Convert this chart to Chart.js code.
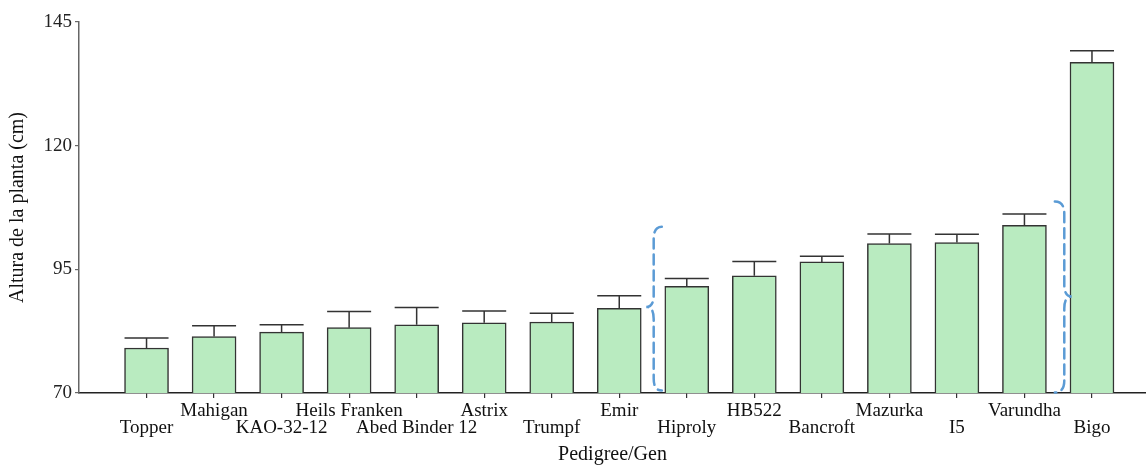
<!DOCTYPE html>
<html>
<head>
<meta charset="utf-8">
<script src="https://cdn.jsdelivr.net/npm/chart.js@4/dist/chart.umd.min.js"></script>
<style>
  html, body { margin: 0; padding: 0; background: #fff; }
  #wrap { width: 1146px; height: 465px; }
</style>
</head>
<body>
<div id="wrap"><canvas id="c" width="1146" height="465"></canvas></div>
<script>
// Plant height per pedigree / gene (cm), with the upper standard error
const categories = ['Topper', 'Mahigan', 'KAO-32-12', 'Heils Franken', 'Abed Binder 12', 'Astrix', 'Trumpf', 'Emir',
  'Hiproly', 'HB522', 'Bancroft', 'Mazurka', 'I5', 'Varundha', 'Bigo'];
const heights = [79.1, 81.4, 82.3, 83.2, 83.8, 84.2, 84.35, 87.1, 91.55, 93.7, 96.5, 100.2, 100.4, 103.9, 136.85];
const errors = [2.0, 2.2, 1.5, 3.3, 3.5, 2.4, 1.75, 2.55, 1.6, 2.9, 1.15, 1.95, 1.7, 2.3, 2.35];
const yTicks = [70, 95, 120, 145];

// Dashed braces grouping the gene classes (x in category units, y in cm)
const braces = [
  { x: 7.51, tipX: 7.40, endX: 7.63, top: 103.6, mid: 87.4, bottom: 70.5 },
  { x: 13.59, tipX: 13.70, endX: 13.45, top: 108.7, mid: 89.5, bottom: 70.1 }
];

const serif = "'Liberation Serif', 'Times New Roman', serif";

const errorBars = {
  id: 'errorBars',
  afterDatasetsDraw(chart) {
    const meta = chart.getDatasetMeta(0);
    const xs = chart.scales.x, ys = chart.scales.y;
    const ctx = chart.ctx;
    ctx.save();
    ctx.strokeStyle = '#333';
    ctx.lineWidth = 1.5;
    heights.forEach((h, i) => {
      const bar = meta.data[i];
      const x = xs.getPixelForValue(i);
      const y0 = ys.getPixelForValue(h);
      const y1 = ys.getPixelForValue(h + errors[i]);
      const half = bar.width / 2;
      ctx.beginPath();
      ctx.moveTo(x, y0);
      ctx.lineTo(x, y1);
      ctx.moveTo(x - half, y1);
      ctx.lineTo(x + half, y1);
      ctx.stroke();
    });
    ctx.restore();
  }
};

const bracePlugin = {
  id: 'braces',
  afterDatasetsDraw(chart) {
    const xs = chart.scales.x, ys = chart.scales.y;
    const ctx = chart.ctx;
    ctx.save();
    ctx.strokeStyle = '#5B9BD5';
    ctx.lineWidth = 2.5;
    ctx.setLineDash([10, 6]);
    ctx.lineCap = 'round';
    braces.forEach(b => {
      const x = xs.getPixelForValue(b.x);
      const tx = xs.getPixelForValue(b.tipX);
      const ex = xs.getPixelForValue(b.endX);
      const top = ys.getPixelForValue(b.top);
      const mid = ys.getPixelForValue(b.mid);
      const bot = ys.getPixelForValue(b.bottom);
      const r = 12;
      ctx.beginPath();
      ctx.moveTo(ex, top);
      ctx.quadraticCurveTo(x, top, x, top + r);
      ctx.lineTo(x, mid - r);
      ctx.quadraticCurveTo(x, mid, tx, mid);
      ctx.quadraticCurveTo(x, mid, x, mid + r);
      ctx.lineTo(x, bot - r);
      ctx.quadraticCurveTo(x, bot, ex, bot);
      ctx.stroke();
    });
    ctx.restore();
  }
};

new Chart(document.getElementById('c'), {
  type: 'bar',
  data: {
    datasets: [{
      data: heights.map((h, i) => ({ x: i, y: h })),
      backgroundColor: '#B9EBC0',
      borderColor: '#333',
      borderWidth: 1.5,
      barThickness: 44
    }]
  },
  options: {
    responsive: false,
    animation: false,
    layout: { padding: { top: 22, right: 0, left: 0, bottom: 0 } },
    plugins: { legend: { display: false }, tooltip: { enabled: false } },
    scales: {
      x: {
        type: 'linear',
        min: -1,
        max: 14.8,
        offset: false,
        afterBuildTicks(scale) { scale.ticks = categories.map((_, i) => ({ value: i })); },
        afterFit(scale) { scale.height = 72; },
        grid: { display: true, drawOnChartArea: false, drawTicks: true, tickLength: 5, color: '#333', lineWidth: 1.2, offset: false },
        border: { display: true, color: '#222', width: 1.5 },
        ticks: {
          autoSkip: false,
          maxRotation: 0,
          padding: 4,
          color: '#111',
          font: { family: serif, size: 19, lineHeight: 0.9 },
          callback(v) {
            const name = categories[v];
            if (name === undefined) return '';
            return v % 2 === 0 ? ['', name] : [name];
          }
        },
        title: {
          display: true,
          text: 'Pedigree/Gen',
          color: '#111',
          font: { family: serif, size: 20, lineHeight: 1 },
          padding: { top: 0, bottom: 0 }
        }
      },
      y: {
        min: 70,
        max: 145,
        afterBuildTicks(scale) { scale.ticks = yTicks.map(v => ({ value: v })); },
        afterFit(scale) { scale.width = 79; },
        grid: { display: true, drawOnChartArea: false, drawTicks: true, tickLength: 4, color: '#666', lineWidth: 1.2 },
        border: { display: true, color: '#666', width: 1.5 },
        ticks: {
          padding: 3,
          color: '#222',
          font: { family: serif, size: 19 }
        },
        title: {
          display: true,
          text: 'Altura de la planta (cm)',
          color: '#111',
          font: { family: serif, size: 20, lineHeight: 1 },
          padding: { top: 8, bottom: 0 }
        }
      }
    }
  },
  plugins: [errorBars, bracePlugin]
});
</script>
</body>
</html>
